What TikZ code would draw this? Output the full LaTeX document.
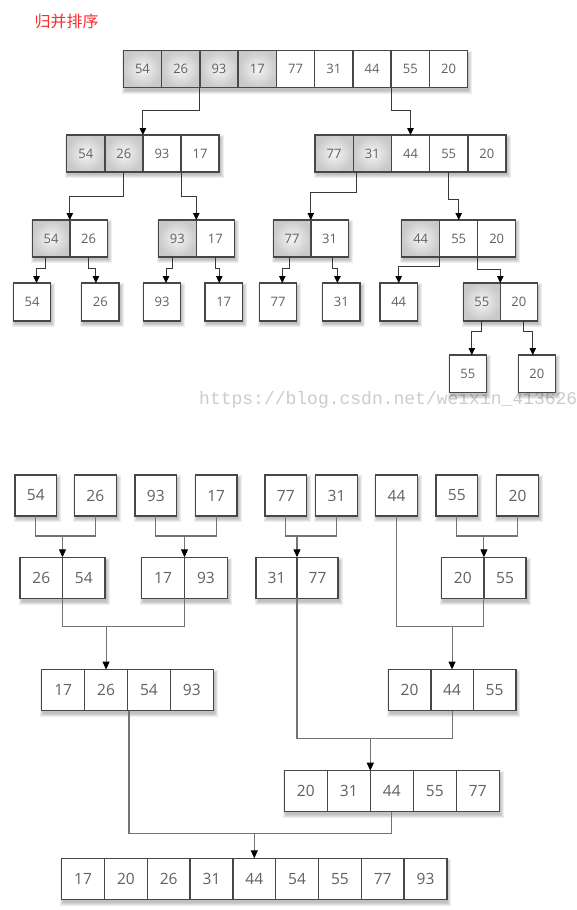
\documentclass[tikz,border=0pt]{standalone}
\usepackage{fontspec}
\setmainfont{Open Sans}
\newfontfamily\cjkfont{Noto Sans CJK SC}
\newfontfamily\wmfont{Liberation Mono}
\usetikzlibrary{arrows.meta,calc,backgrounds}

\definecolor{titlered}{RGB}{250,45,45}
\tikzset{
  cell/.style={draw=none, inner sep=0pt, outer sep=0pt, text=black!62},
  cellborder/.style={draw=black!72, line width=1.4pt},
  cellplain/.style={fill=white},
  cellshade/.style={shading=radial, inner color=gray!8, outer color=gray!42},
  conn/.style={draw=black!78, line width=1pt},
  arr/.style={conn, -{Triangle[length=7pt,width=6.5pt,color=black]}},
  bconn/.style={draw=black!55, line width=1.1pt},
  barr/.style={bconn, -{Triangle[length=8pt,width=7pt,color=black]}},
}

% #1 name, #2 x left, #3 y top, #4 cell width, #5 height, #6 values, #7 shaded count, #8 count, #9 font size
\newcommand\cellrow[9]{%
  \foreach \v [count=\i] in {#6} {%
    \ifnum\i>#7 \def\cst{cellplain}\else\def\cst{cellshade}\fi
    \node[cell,\cst,minimum width=#4pt,minimum height=#5pt,
          font=\fontsize{#9}{#9}\selectfont] (#1-\i) at ({#2+(\i-0.5)*#4},{#3+#5/2}) {\v};
  }%
  \draw[cellborder] (#1-1.north west) rectangle (#1-#8.south east);
  \ifnum#8>1
    \foreach \j in {2,...,#8} {\draw[cellborder] (#1-\j.north west) -- (#1-\j.south west);}%
  \fi
  \begin{scope}[on background layer]
    \foreach \k in {0,1,2,3} {%
      \fill[black,opacity=0.065] ($(#1-1.north west)+({1.5-\k},{3.2-\k})$) rectangle ($(#1-#8.south east)+({1.5+\k},{3.2+\k})$);
    }%
  \end{scope}%
}

\begin{document}
\begin{tikzpicture}[x=1pt,y=-1pt]
\useasboundingbox (0,0) rectangle (576,910);
\begin{scope}[on background layer]
\fill[white] (0,0) rectangle (576,910);
% watermark
\node[anchor=base west,inner sep=0pt,text=black!20,font=\wmfont\fontsize{18}{18}\selectfont] (wm) at (199,404) {https://blog.csdn.net/weixin\_41362649};
\end{scope}

% title
\node[anchor=west,inner sep=0pt,text=titlered,font=\cjkfont\fontsize{16}{16}\selectfont] (title) at (34.5,21) {归并排序};

% ---------- top half: splitting ----------
\cellrow{T}{123.3}{50.5}{38.27}{37}{54,26,93,17,77,31,44,55,20}{4}{9}{13}
\cellrow{A}{66.7}{135}{38.1}{37}{54,26,93,17}{2}{4}{13}
\cellrow{B}{315}{135}{38.2}{37}{77,31,44,55,20}{2}{5}{13}
\cellrow{C}{32.3}{220}{37.5}{37}{54,26}{1}{2}{13}
\cellrow{D}{158.3}{220}{38}{37}{93,17}{1}{2}{13}
\cellrow{E}{273.3}{220}{37.5}{37}{77,31}{1}{2}{13}
\cellrow{F}{401.7}{220}{38}{37}{44,55,20}{1}{3}{13}
\cellrow{Ga}{13.3}{283}{37.4}{38}{54}{0}{1}{13}
\cellrow{Gb}{81.7}{283}{37.4}{38}{26}{0}{1}{13}
\cellrow{Gc}{143.3}{283}{37.4}{38}{93}{0}{1}{13}
\cellrow{Gd}{205}{283}{37.4}{38}{17}{0}{1}{13}
\cellrow{Ge}{259.3}{283}{37.4}{38}{77}{0}{1}{13}
\cellrow{Gf}{322.7}{283}{37.4}{38}{31}{0}{1}{13}
\cellrow{Gg}{380}{283}{37.4}{38}{44}{0}{1}{13}
\cellrow{H}{463.3}{283}{37}{38}{55,20}{1}{2}{13}
\cellrow{Ia}{449.3}{355}{37}{37.7}{55}{0}{1}{13}
\cellrow{Ib}{518.3}{355}{37}{37.7}{20}{0}{1}{13}

\draw[arr] (T-2.south east) -- ++(0,22.5) -| (A-2.north east);
\draw[arr] (T-7.south east) -- ++(0,22.5) -| (B-3.north);
\draw[arr] (A-2.south) -- ++(0,24) -| (C-1.north east);
\draw[arr] (A-3.south east) -- ++(0,24) -| (D-1.north east);
\draw[arr] ([xshift=3pt]B-1.south east) -- ++(0,20.7) -| (E-1.north east);
\draw[arr] (B-4.south) -- ++(0,27) -| (F-2.north);
\draw[arr] ([xshift=-6pt]C-1.south) -- ++(0,11) -| ([xshift=4.5pt]Ga-1.north);
\draw[arr] (C-2.south) -- ++(0,11) -| ([xshift=-4.5pt]Gb-1.north);
\draw[arr] ([xshift=-5pt]D-1.south) -- ++(0,11) -| ([xshift=4pt]Gc-1.north);
\draw[arr] (D-2.south) -- ++(0,11) -| ([xshift=-4.4pt]Gd-1.north);
\draw[arr] ([xshift=-3pt]E-1.south) -- ++(0,11) -| ([xshift=4.3pt]Ge-1.north);
\draw[arr] ([xshift=2.7pt]E-2.south) -- ++(0,11) -| ([xshift=-4pt]Gf-1.north);
\draw[arr] (F-1.south east) -- ++(0,9.7) -| (Gg-1.north);
\draw[arr] (F-2.south east) -- ++(0,12) -| (H-1.north east);
\draw[arr] (H-1.south) -- ++(0,10.7) -| ([xshift=4pt]Ia-1.north);
\draw[arr] ([xshift=5pt]H-2.south) -- ++(0,10.7) -| ([xshift=-4pt]Ib-1.north);

% ---------- bottom half: merging ----------
\cellrow{Pa}{15}{475}{41.7}{41}{54}{0}{1}{15.5}
\cellrow{Pb}{74.5}{475}{41.7}{41}{26}{0}{1}{15.5}
\cellrow{Pc}{135}{475}{41.7}{41}{93}{0}{1}{15.5}
\cellrow{Pd}{195.3}{475}{41.7}{41}{17}{0}{1}{15.5}
\cellrow{Pe}{265}{475}{41.7}{41}{77}{0}{1}{15.5}
\cellrow{Pf}{315.7}{475}{41.7}{41}{31}{0}{1}{15.5}
\cellrow{Pg}{375.7}{475}{41.7}{41}{44}{0}{1}{15.5}
\cellrow{Ph}{436}{475}{41.7}{41}{55}{0}{1}{15.5}
\cellrow{Pi}{496.7}{475}{41.7}{41}{20}{0}{1}{15.5}
\cellrow{Qa}{20}{557.3}{42.5}{41}{26,54}{0}{2}{15.5}
\cellrow{Qb}{141.7}{557.3}{42.8}{41}{17,93}{0}{2}{15.5}
\cellrow{Qc}{256}{557.3}{41}{41}{31,77}{0}{2}{15.5}
\cellrow{Qd}{441.7}{557.3}{42.2}{41}{20,55}{0}{2}{15.5}
\cellrow{Ra}{41.7}{669.5}{42.9}{41}{17,26,54,93}{0}{4}{15.5}
\cellrow{Rb}{388.3}{669.5}{42.5}{41}{20,44,55}{0}{3}{15.5}
\cellrow{S}{284.3}{770.7}{43}{41}{20,31,44,55,77}{0}{5}{15.5}
\cellrow{U}{61.7}{858.3}{42.8}{41}{17,20,26,31,44,54,55,77,93}{0}{9}{15.5}

\draw[bconn] (Pa-1.south) -- ++(0,20) coordinate (m1) -| (Pb-1.south);
\draw[barr] (m1 -| Qa-1.north east) -- (Qa-1.north east);
\draw[bconn] (Pc-1.south) -- ++(0,20) coordinate (m2) -| (Pd-1.south);
\draw[barr] (m2 -| Qb-1.north east) -- (Qb-1.north east);
\draw[bconn] (Pe-1.south) -- ++(0,20) coordinate (m3) -| (Pf-1.south);
\draw[barr] (m3 -| Qc-1.north east) -- (Qc-1.north east);
\draw[bconn] (Ph-1.south) -- ++(0,20) coordinate (m4) -| (Pi-1.south);
\draw[barr] (m4 -| Qd-1.north east) -- (Qd-1.north east);

\draw[bconn] (Qa-1.south east) -- ++(0,28.4) coordinate (m5) -| (Qb-1.south east);
\draw[barr] (m5 -| Ra-2.north) -- (Ra-2.north);
\draw[bconn] (Pg-1.south) -- ++(0,110.7) coordinate (m6) -| (Qd-1.south east);
\draw[barr] (m6 -| Rb-2.north) -- (Rb-2.north);

\draw[bconn] (Qc-1.south east) -- ++(0,140) coordinate (m7) -| (Rb-2.south);
\draw[barr] (m7 -| S-2.north east) -- (S-2.north east);

\draw[bconn] ([xshift=1.5pt]Ra-2.south east) -- ++(0,123) coordinate (m8) -| (S-3.south);
\draw[barr] (m8 -| U-5.north) -- (U-5.north);
\end{tikzpicture}
\end{document}
